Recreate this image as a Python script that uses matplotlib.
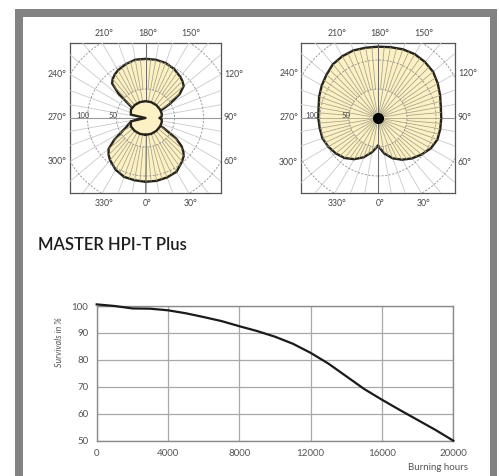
import numpy as np
import matplotlib
matplotlib.use("Agg")
import matplotlib.pyplot as plt
from matplotlib.patches import Rectangle

plt.rcParams['font.family'] = ['Lato', 'DejaVu Sans']

W, H = 499, 476

# ---------------- data ----------------
# Left diagram: C0-C180 plane (two lobes) and C90-C270 plane (small ring)
lobe_angles = [0, 10, 20, 30, 40, 45, 48, 52, 56, 61, 66, 75, 90, 105, 113, 117, 120, 125, 130,
               135, 140, 150, 160, 170, 180, 190, 200, 210, 215, 220, 224, 228, 232, 236, 245, 260, 270,
               275, 280, 285, 290, 295, 300, 305, 310, 315, 320, 330, 340, 350]
lobe_values = [110, 110, 109, 107, 98, 93, 88, 79, 64, 36, 17, 7, 3, 7, 17, 33, 48, 72, 86,
               90, 93, 98, 101, 102, 102, 102, 99, 95, 92, 88, 83, 62, 31, 14, 5, 3, 3,
               7, 16, 26, 31, 36, 47, 66, 83, 90, 95, 103, 108, 109]
ring_angles = [0, 20, 40, 60, 75, 85, 90, 95, 105, 120, 140, 160, 180, 200, 220, 240, 257, 270,
               283, 300, 320, 340]
ring_values = [29, 29, 29, 29, 29, 28, 24, 28, 29, 29, 29, 29, 29, 29, 29, 29, 26, 0,
               26, 29, 29, 29]

# Right diagram
heart_angles = [0, 10, 20, 30, 40, 50, 60, 70, 80, 90, 100, 110, 120, 130, 140, 150, 160, 170,
                180, 190, 200, 210, 220, 230, 240, 250, 260, 270, 280, 290, 300, 310, 320, 330, 340, 350]
heart_values = [48, 62, 74, 83, 91, 98, 105, 109, 109, 109, 110, 114, 119, 124, 126, 127, 126, 124,
                123, 123, 124, 123, 121, 116, 112, 108, 104, 103, 102, 102, 99, 95, 90, 82, 72, 60]

polar_tick_angles = [0, 30, 60, 90, 120, 150, 180, 210, 240, 270, 300, 330]
radial_labels = [50, 100]

# Survival curve
hours = [0, 1000, 2000, 3000, 4000, 5000, 6000, 7000, 8000, 9000, 10000, 11000,
         12000, 13000, 14000, 15000, 16000, 17000, 18000, 19000, 20000]
survival = [100.6, 100.0, 99.1, 99.0, 98.4, 97.3, 95.9, 94.4, 92.5, 90.7, 88.6, 86.0,
            82.6, 78.6, 73.9, 69.2, 65.2, 61.4, 57.7, 54.0, 50.0]
x_ticks = [0, 4000, 8000, 12000, 16000, 20000]
y_ticks = [50, 60, 70, 80, 90, 100]

title = "MASTER HPI-T Plus"
x_label = "Burning hours"
y_label = "Survivals in %"

# ---------------- styling ----------------
PX_PER_UNIT = 0.58
FILL = '#fcf1c4'
OUTLINE = '#26241a'
TXT = '#444444'


def fx(px):
    return px / W


def fy(py):
    return 1 - py / H


fig = plt.figure(figsize=(W / 100, H / 100), dpi=100)
fig.patch.set_facecolor('white')

# gray frame of the datasheet page
frame_col = '#828282'
for (x0, y0, x1, y1) in [(15, 9, 23, H), (15, 9, 497, 17), (490, 9, 497, H)]:
    fig.add_artist(Rectangle((fx(x0), fy(y1)), (x1 - x0) / W, (y1 - y0) / H,
                             transform=fig.transFigure, facecolor=frame_col,
                             edgecolor='none', zorder=0))


def hatch(pax, poly, rmax):
    for a in range(0, 360, 5):
        r0 = 0 if a % 10 == 0 else 50
        ln, = pax.plot(np.radians([a, a]), [r0, rmax], color='#a69f86', lw=0.55,
                       zorder=4)
        ln.set_clip_path(poly)


def polar_panel(box, curves, dot=False, lab100_r=96):
    x0, y0, x1, y1 = box
    bax = fig.add_axes([fx(x0), fy(y1), (x1 - x0) / W, (y1 - y0) / H])
    bax.set_xticks([])
    bax.set_yticks([])
    for s in bax.spines.values():
        s.set_color('#555555')
        s.set_linewidth(0.9)
    cx, cy = (x0 + x1) / 2, (y0 + y1) / 2
    hw, hh = (x1 - x0) / 2, (y1 - y0) / 2
    R = max(hw, hh) * 1.45
    pax = fig.add_axes([fx(cx - R), fy(cy + R), 2 * R / W, 2 * R / H], projection='polar')
    pax.set_theta_zero_location('S')
    pax.set_theta_direction(1)
    rmax = R / PX_PER_UNIT
    pax.set_ylim(0, rmax)
    pax.set_axis_off()
    pax.patch.set_alpha(0)
    clip = bax.patch

    # radial grid lines
    for a in range(0, 360, 10):
        main = a % 90 == 0
        ln, = pax.plot(np.radians([a, a]), [0, rmax], color='#9a9a9a' if main else '#cacaca',
                       lw=0.8 if main else 0.6, zorder=1)
        ln.set_clip_path(clip)

    zf = 2
    for ang, val in curves:
        t = np.radians(ang + [ang[0]])
        r = val + [val[0]]
        poly = pax.fill(t, r, facecolor=FILL, edgecolor='none', zorder=zf)[0]
        hatch(pax, poly, rmax)
        pax.plot(t, r, color=OUTLINE, lw=1.7, zorder=zf + 0.5)
        zf += 3

    # dashed circles
    tt = np.linspace(0, 2 * np.pi, 361)
    for rc in [50, 100, 150, 200]:
        ln, = pax.plot(tt, np.full_like(tt, rc), color='#8e8e8e', lw=0.6,
                       ls=(0, (2.5, 1.8)), zorder=4.2)
        ln.set_clip_path(clip)

    # main vertical axis
    for a in (0, 180):
        ln, = pax.plot(np.radians([a, a]), [0, rmax], color='#6a6a6a', lw=0.7, zorder=4.3)
        ln.set_clip_path(clip)

    if dot:
        pax.plot([0], [0], 'o', ms=7, color='black', zorder=12)

    for rl in radial_labels:
        rr = lab100_r if rl == 100 else rl - 2
        pax.text(np.radians(270), rr, str(rl), ha='right', va='baseline', fontsize=5.5,
                 color=TXT, zorder=13)

    # angle labels along the box edges
    for a in polar_tick_angles:
        dx, dy = np.sin(np.radians(a)), -np.cos(np.radians(a))  # dy positive = up
        tx = hw / abs(dx) if abs(dx) > 1e-9 else np.inf
        ty = hh / abs(dy) if abs(dy) > 1e-9 else np.inf
        t = min(tx, ty)
        px = cx + t * dx
        py = cy - t * dy
        if ty <= tx:
            py = py - 10 if dy > 0 else py + 10
            ha = 'center'
            px += 2
        else:
            if dx > 0:
                px += 3
                ha = 'left'
            else:
                px -= 3
                ha = 'right'
        fig.text(fx(px), fy(py), f"{a}\u00b0", ha=ha, va='center', fontsize=6.3, color=TXT)


polar_panel((70, 43, 221, 193),
            [(lobe_angles, lobe_values), (ring_angles, ring_values)], dot=False, lab100_r=96)
polar_panel((301, 43, 455, 193), [(heart_angles, heart_values)], dot=True, lab100_r=103)

# title
fig.text(fx(38), fy(250), title, fontsize=12, color='#1e1e1e', va='baseline', ha='left',
         fontweight='semibold')

# survival chart
lax = fig.add_axes([fx(96.7), fy(440.7), (453.3 - 96.7) / W, (440.7 - 306) / H])
lax.plot(hours, survival, color='#1a1a1a', lw=1.6, clip_on=False, zorder=3)
lax.set_xlim(0, 20000)
lax.set_ylim(50, 100)
lax.set_xticks(x_ticks)
lax.set_yticks(y_ticks)
lax.grid(True, color='#a8a8a8', lw=0.9)
lax.set_axisbelow(True)
for s in lax.spines.values():
    s.set_color('#8a8a8a')
    s.set_linewidth(1.0)
lax.tick_params(length=0, labelsize=7, colors='#555555', pad=6)
fig.text(fx(468), fy(467), x_label, ha='right', va='center', fontsize=7, color='#555555')
fig.text(fx(59), fy(342), y_label, ha='center', va='center', fontsize=6.3, color='#555555',
         rotation=90, style='italic')

fig.savefig('out.png', dpi=100)
